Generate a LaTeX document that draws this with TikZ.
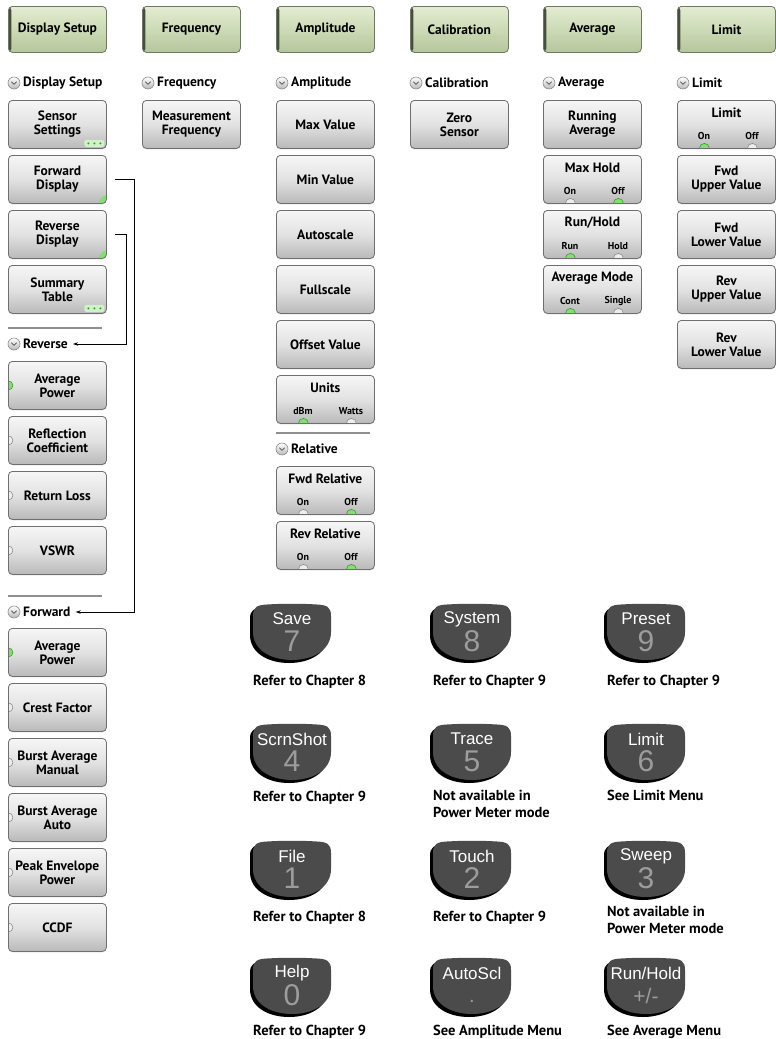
\documentclass[tikz,border=0pt]{standalone}
\usepackage{fontspec}
\setmainfont{PT Sans}
\newfontfamily\keyfont{Liberation Sans}
\usetikzlibrary{arrows.meta,shadows}

\definecolor{hdrtop}{HTML}{E3ECD2}
\definecolor{hdrmid}{HTML}{CDDAB6}
\definecolor{hdrbot}{HTML}{B5C69B}
\definecolor{hdrdark}{HTML}{474E40}
\definecolor{hdredge}{HTML}{6E7862}
\definecolor{btntop}{HTML}{F6F6F6}
\definecolor{btnmid}{HTML}{E2E2E2}
\definecolor{btnbot}{HTML}{B9B9B9}
\definecolor{btnedge}{HTML}{6F6F6F}
\definecolor{ledon}{HTML}{86DD74}
\definecolor{ledonrim}{HTML}{3E9A35}
\definecolor{ledoff}{HTML}{EDEDED}
\definecolor{ledoffrim}{HTML}{8C8C8C}
\definecolor{keyfill}{HTML}{4B4B4B}
\definecolor{keydigit}{HTML}{9C9C9C}
\definecolor{sepgray}{HTML}{8F8F8F}
\definecolor{glow}{HTML}{CFF2C6}

\newcommand\btnfont{\bfseries\fontsize{13.5}{14}\selectfont}

\tikzset{
  hdr/.style={rounded corners=4pt, draw=hdredge, line width=0.8pt,
    top color=hdrtop, bottom color=hdrbot, middle color=hdrmid,
    minimum width=98pt, minimum height=46pt, inner sep=0pt, font=\btnfont, anchor=north west,
    path picture={\fill[hdrdark] (path picture bounding box.south west) rectangle ([xshift=3pt]path picture bounding box.north west);}},
  btn/.style={rounded corners=4pt, draw=btnedge, line width=0.8pt,
    top color=btntop, bottom color=btnbot, middle color=btnmid,
    minimum width=98pt, minimum height=48pt, inner sep=0pt, align=center, font=\btnfont, anchor=north west,
    drop shadow={shadow xshift=0pt, shadow yshift=-1pt, opacity=0.3}},
  sect/.style={font=\btnfont, inner sep=0pt, anchor=west},
  icon/.style={circle, minimum size=12pt, inner sep=0pt, draw=ledoffrim, line width=0.6pt,
    top color=white, bottom color=btnbot,
    path picture={\draw[black!70, line width=0.7pt, line cap=round, line join=round]
      ([xshift=-2.6pt,yshift=1.2pt]path picture bounding box.center) -- ([yshift=-1.4pt]path picture bounding box.center) -- ([xshift=2.6pt,yshift=1.2pt]path picture bounding box.center);}},
  ttl/.style={font=\btnfont, inner sep=0pt},
  opt/.style={font=\bfseries\fontsize{10}{11}\selectfont, inner sep=0pt},
  lampon/.style={fill=ledon, draw=ledonrim, line width=0.6pt},
  lampoff/.style={fill=ledoff, draw=ledoffrim, line width=0.6pt},
  sideind/.style={path picture={\filldraw[#1] (path picture bounding box.west) circle (4.5pt);}},
  togind/.style 2 args={path picture={\filldraw[#1] ([xshift=27pt]path picture bounding box.south west) circle (5pt);
      \filldraw[#2] ([xshift=75pt]path picture bounding box.south west) circle (5pt);}},
  moredots/.style={path picture={\fill[glow, rounded corners=2pt] ([xshift=-22pt,yshift=1.5pt]path picture bounding box.south east) rectangle ([xshift=-2pt,yshift=8.5pt]path picture bounding box.south east);
      \foreach \dx in {-18,-12,-6} {\fill[ledonrim] ([xshift=\dx pt,yshift=5pt]path picture bounding box.south east) circle (1.1pt);}}},
  subtri/.style={path picture={\fill[ledon] (path picture bounding box.south east) -- ([xshift=-10pt]path picture bounding box.south east) -- ([yshift=10pt]path picture bounding box.south east) -- cycle;}},
  conn/.style={draw=black, line width=0.8pt, -{Stealth[length=5pt,width=3.5pt]}},
  sepline/.style={draw=sepgray, line width=1.2pt},
  keylbl/.style={text=white, font=\keyfont\fontsize{17}{17}\selectfont, inner sep=0pt},
  keydig/.style={text=keydigit, font=\keyfont\fontsize{30}{30}\selectfont, inner sep=0pt},
  capt/.style={font=\bfseries\fontsize{14.5}{17}\selectfont, align=left, anchor=north west, inner sep=0pt},
}

% #1 name, #2 x, #3 y, #4 title, #5 left option, #6 right option, #7 indicator styles
\newcommand\tog[7]{%
  \node[btn, togind=#7] (#1) at (#2,#3) {};
  \node[ttl] (#1t) at ([yshift=-13pt]#1.north) {#4};
  \node[opt] (#1a) at ([xshift=27pt,yshift=-36pt]#1.north west) {#5};
  \node[opt] (#1b) at ([xshift=75pt,yshift=-36pt]#1.north west) {#6};
}
% #1 name, #2 x, #3 y, #4 label, #5 digit node
\newcommand\keycap[5]{%
  \begin{scope}[shift={(#2,#3)}]
    \fill[black, shift={(-3,3)}] (0,12) .. controls (0,3) and (4,1) .. (14,0.5) .. controls (30,-0.5) and (48,-0.5) .. (64,0.5) .. controls (74,1) and (78,3) .. (78,12) -- (78,28) .. controls (78,46) and (60,56) .. (39,56) .. controls (18,56) and (0,46) .. (0,28) -- cycle;
    \fill[keyfill] (0,12) .. controls (0,3) and (4,1) .. (14,0.5) .. controls (30,-0.5) and (48,-0.5) .. (64,0.5) .. controls (74,1) and (78,3) .. (78,12) -- (78,28) .. controls (78,46) and (60,56) .. (39,56) .. controls (18,56) and (0,46) .. (0,28) -- cycle;
    \node[keylbl] (#1l) at (39,15) {#4};
    #5
  \end{scope}
}
\newcommand\digit[2]{\node[keydig] (#1d) at (39,37) {#2};}

\begin{document}
\begin{tikzpicture}[x=1pt,y=-1pt]
\useasboundingbox (0,0) rectangle (776,1039);

% headers
\node[hdr] (hds) at (8,6) {Display Setup};
\node[hdr] (hfq) at (142,6) {Frequency};
\node[hdr] (ham) at (276,6) {Amplitude};
\node[hdr] (hca) at (410,6) {Calibration};
\node[hdr] (hav) at (543,6) {Average};
\node[hdr] (hli) at (677,6) {Limit};

% section titles
\node[icon] (i1) at (14,83) {};  \node[sect] (t1) at (23,83) {Display Setup};
\node[icon] (i2) at (148,83) {}; \node[sect] (t2) at (157,83) {Frequency};
\node[icon] (i3) at (282,83) {}; \node[sect] (t3) at (291,83) {Amplitude};
\node[icon] (i4) at (416,83) {}; \node[sect] (t4) at (425,83) {Calibration};
\node[icon] (i5) at (549,83) {}; \node[sect] (t5) at (558,83) {Average};
\node[icon] (i6) at (683,83) {}; \node[sect] (t6) at (692,83) {Limit};

% column 1: Display Setup
\node[btn, moredots] (sens) at (8,100) {Sensor\\Settings};
\node[btn, subtri] (fwd) at (8,155) {Forward\\Display};
\node[btn, subtri] (rev) at (8,210) {Reverse\\Display};
\node[btn, moredots] (summ) at (8,265) {Summary\\Table};
\draw[sepline] (8,328) -- (102,328);
\node[icon] (iRev) at (14,344) {}; \node[sect] (tRev) at (23,344) {Reverse};
\node[btn, sideind=lampon] (rAvg) at (8,361) {Average\\Power};
\node[btn, sideind=lampoff] (rRef) at (8,416) {Reflection\\Coefficient};
\node[btn, sideind=lampoff] (rRet) at (8,471) {Return Loss};
\node[btn, sideind=lampoff] (rVsw) at (8,526) {VSWR};
\draw[sepline] (8,596) -- (102,596);
\node[icon] (iFwd) at (14,612) {}; \node[sect] (tFwd) at (23,612) {Forward};
\node[btn, sideind=lampon] (fAvg) at (8,628) {Average\\Power};
\node[btn, sideind=lampoff] (fCre) at (8,683) {Crest Factor};
\node[btn, sideind=lampoff] (fBam) at (8,738) {Burst Average\\Manual};
\node[btn, sideind=lampoff] (fBaa) at (8,793) {Burst Average\\Auto};
\node[btn, sideind=lampoff] (fPep) at (8,848) {Peak Envelope\\Power};
\node[btn, sideind=lampoff] (fCcd) at (8,903) {CCDF};

% connectors
\draw[conn] ([xshift=8pt]fwd.east) -- ++(20,0) |- ([xshift=5pt]tFwd.east);
\draw[conn] ([xshift=8pt]rev.east) -- ++(12,0) |- ([xshift=5pt]tRev.east);

% column 2: Frequency
\node[btn] (mfreq) at (142,100) {Measurement\\Frequency};

% column 3: Amplitude
\node[btn] (amax) at (276,100) {Max Value};
\node[btn] (amin) at (276,155) {Min Value};
\node[btn] (aaut) at (276,210) {Autoscale};
\node[btn] (aful) at (276,265) {Fullscale};
\node[btn] (aoff) at (276,320) {Offset Value};
\tog{aunit}{276}{375}{Units}{dBm}{Watts}{{lampon}{lampoff}}
\draw[sepline] (276,433) -- (370,433);
\node[icon] (iRel) at (282,449) {}; \node[sect] (tRel) at (291,449) {Relative};
\tog{afrel}{276}{466}{Fwd Relative}{On}{Off}{{lampoff}{lampon}}
\tog{arrel}{276}{521}{Rev Relative}{On}{Off}{{lampoff}{lampon}}

% column 4: Calibration
\node[btn] (zero) at (410,100) {Zero\\Sensor};

% column 5: Average
\node[btn] (vrun) at (543,100) {Running\\Average};
\tog{vmax}{543}{155}{Max Hold}{On}{Off}{{lampoff}{lampon}}
\tog{vrh}{543}{210}{Run/Hold}{Run}{Hold}{{lampon}{lampoff}}
\tog{vmode}{543}{265}{Average Mode}{Cont}{Single}{{lampon}{lampoff}}

% column 6: Limit
\tog{lon}{677}{100}{Limit}{On}{Off}{{lampon}{lampoff}}
\node[btn] (lfu) at (677,155) {Fwd\\Upper Value};
\node[btn] (lfl) at (677,210) {Fwd\\Lower Value};
\node[btn] (lru) at (677,265) {Rev\\Upper Value};
\node[btn] (lrl) at (677,320) {Rev\\Lower Value};

% keypad
\keycap{k7}{253}{604}{Save}{\digit{k7}{7}}
\keycap{k8}{433}{604}{System}{\digit{k8}{8}}
\keycap{k9}{607}{604}{Preset}{\digit{k9}{9}}
\keycap{k4}{253}{724}{ScrnShot}{\digit{k4}{4}}
\keycap{k5}{433}{724}{Trace}{\digit{k5}{5}}
\keycap{k6}{607}{724}{Limit}{\digit{k6}{6}}
\keycap{k1}{253}{841}{File}{\digit{k1}{1}}
\keycap{k2}{433}{841}{Touch}{\digit{k2}{2}}
\keycap{k3}{607}{841}{Sweep}{\digit{k3}{3}}
\keycap{k0}{253}{958}{Help}{\digit{k0}{0}}
\keycap{kdot}{433}{958}{AutoScl}{\node[keydig, font=\keyfont\fontsize{20}{20}\selectfont, anchor=base] (kdotd) at (39,44) {.};}
\keycap{kpm}{607}{958}{Run/Hold}{\node[keydig, font=\keyfont\fontsize{21}{21}\selectfont] (kpmd) at (39,38) {+/-};}

\node[capt] (c7) at (253,675) {Refer to Chapter 8};
\node[capt] (c8) at (433,675) {Refer to Chapter 9};
\node[capt] (c9) at (607,675) {Refer to Chapter 9};
\node[capt] (c4) at (253,791) {Refer to Chapter 9};
\node[capt] (c5) at (433,790) {Not available in\\Power Meter mode};
\node[capt] (c6) at (607,790) {See Limit Menu};
\node[capt] (c1) at (253,911) {Refer to Chapter 8};
\node[capt] (c2) at (433,911) {Refer to Chapter 9};
\node[capt] (c3) at (607,906) {Not available in\\Power Meter mode};
\node[capt] (c0) at (253,1025) {Refer to Chapter 9};
\node[capt] (cdot) at (433,1025) {See Amplitude Menu};
\node[capt] (cpm) at (607,1025) {See Average Menu};
\end{tikzpicture}
\end{document}
